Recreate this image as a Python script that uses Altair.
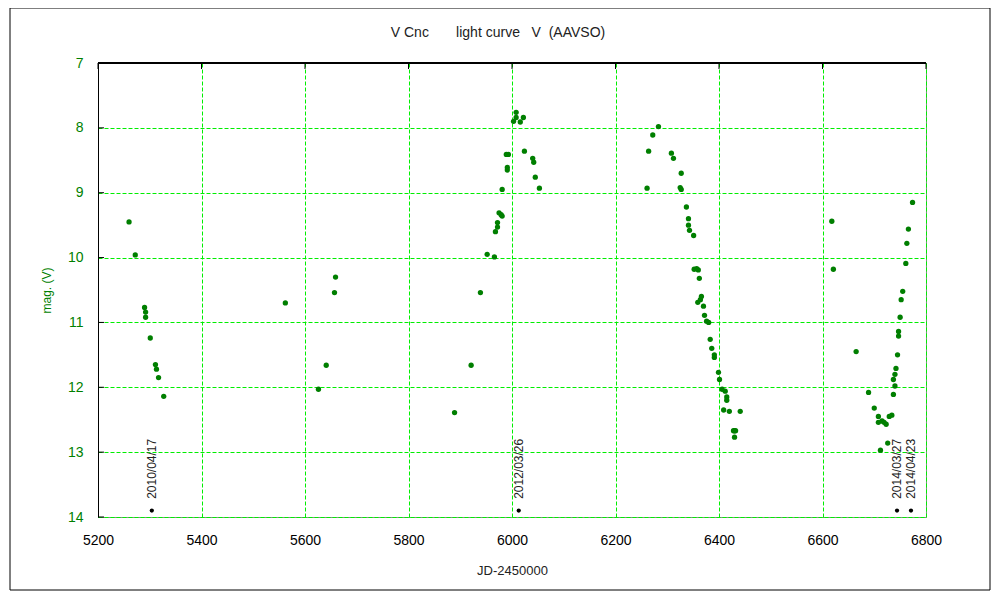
import altair as alt
import pandas as pd

# ---- data ----
jd = [5260, 5272, 5290, 5292, 5292, 5301, 5311, 5313, 5317, 5327,
      5562, 5626, 5641, 5657, 5659,
      5889, 5921, 5939, 5952, 5966, 5968, 5972, 5972, 5975, 5979, 5981, 5981,
      5989, 5991, 5991, 5993, 6003, 6008, 6008, 6016, 6022, 6024, 6040, 6042,
      6045, 6053,
      6261, 6264, 6272, 6283, 6308, 6312, 6325, 6327, 6327, 6337, 6341, 6341,
      6343, 6351, 6352, 6357, 6360, 6362, 6359, 6364, 6366, 6370, 6372, 6376,
      6380, 6383, 6386, 6391, 6391, 6399, 6401, 6406, 6409, 6412, 6415, 6415,
      6420, 6428, 6430, 6432, 6430, 6441,
      6618, 6621, 6665, 6689, 6700, 6708, 6708, 6712, 6715, 6719, 6723, 6726,
      6729, 6734, 6737, 6737, 6740, 6740, 6742, 6745, 6747, 6747, 6750, 6752,
      6755, 6761, 6763, 6766, 6774]
mag = [9.45, 9.96, 10.77, 10.84, 10.92, 11.24, 11.65, 11.72, 11.85, 12.14,
       10.70, 12.03, 11.66, 10.54, 10.30,
       12.39, 11.66, 10.54, 9.95, 9.99, 9.60, 9.53, 9.46, 9.31, 9.34, 9.36, 8.95,
       8.41, 8.61, 8.65, 8.41, 7.90, 7.76, 7.84, 7.91, 7.84, 8.36, 8.47, 8.53,
       8.76, 8.93,
       8.93, 8.36, 8.11, 7.98, 8.39, 8.47, 8.92, 8.95, 8.70, 9.22, 9.40, 9.50,
       9.58, 9.66, 10.18, 10.17, 10.19, 10.32, 10.69, 10.65, 10.60, 10.75, 10.89, 10.98,
       11.00, 11.26, 11.40, 11.50, 11.54, 11.77, 11.88, 12.03, 12.35, 12.06, 12.15, 12.20,
       12.37, 12.67, 12.67, 12.67, 12.77, 12.37,
       9.44, 10.18, 11.45, 12.08, 12.32, 12.45, 12.54, 12.97, 12.52, 12.54, 12.57, 12.86,
       12.45, 12.43, 12.11, 11.88, 11.98, 11.80, 11.71, 11.50, 11.21, 11.14, 10.92, 10.65,
       10.52, 10.09, 9.78, 9.56, 9.15]

event_dates = ["2010/04/17", "2012/03/26", "2014/03/27", "2014/04/23"]
event_jd = [5304, 6013, 6744, 6771]
event_marker_mag = [13.9, 13.9, 13.9, 13.9]
event_label_mag = [13.72, 13.72, 13.72, 13.72]

x_ticks = [5200, 5400, 5600, 5800, 6000, 6200, 6400, 6600, 6800]
y_ticks = [7, 8, 9, 10, 11, 12, 13, 14]
NB = "\u00a0"
title_text = ["V" + NB + "Cnc" + NB * 7 + "light" + NB + "curve" + NB * 3 + "V" + NB * 2 + "(AAVSO)"]

W, H = 828, 454
FONT = "Liberation Sans"
GREEN = "#007f00"
GRID = "#00ee00"

obs = pd.DataFrame({"jd": jd, "mag": mag})
events = pd.DataFrame({"jd": event_jd, "date": event_dates,
                       "m": event_marker_mag, "lm": event_label_mag})
yt = pd.DataFrame({"v": y_ticks})
xt = pd.DataFrame({"v": x_ticks})
tt = pd.DataFrame({"t": title_text})

xscale = alt.Scale(domain=[5200, 6800], nice=False, zero=False)
yscale = alt.Scale(domain=[7, 14], reverse=True, nice=False, zero=False)

xaxis = alt.Axis(values=x_ticks, title="JD-2450000", format="d",
                 labelColor="black", labelFontSize=14, labelPadding=16,
                 labelFlush=False,
                 titleFontSize=13, titleFontWeight="normal", titleColor="#222222",
                 titlePadding=17, domain=False, ticks=False,
                 grid=True, gridColor=GRID, gridDash=[4, 2], gridWidth=1)
yaxis = alt.Axis(values=y_ticks, title="mag. (V)", format="d",
                 labelColor=GREEN, labelFontSize=14, labelPadding=15,
                 labelFlush=False,
                 titleColor=GREEN, titleFontSize=12, titleFontWeight="normal",
                 titlePadding=14, domain=True, domainColor="black", ticks=False,
                 grid=True, gridColor=GRID, gridDash=[4, 2], gridWidth=1)


def X(field):
    return alt.X(field, type="quantitative", scale=xscale, axis=xaxis, title="JD-2450000")


def Y(field):
    return alt.Y(field, type="quantitative", scale=yscale, axis=yaxis, title="mag. (V)")


points = alt.Chart(obs).mark_circle(color=GREEN, size=28, opacity=1).encode(
    x=X("jd"), y=Y("mag"))

ev_pts = alt.Chart(events).mark_circle(color="black", size=18, opacity=1).encode(
    x=X("jd"), y=Y("m"))

ev_txt = alt.Chart(events).mark_text(angle=270, align="left", baseline="middle",
                                     fontSize=12, font=FONT, color="#222222").encode(
    x=X("jd"), y=Y("lm"), text="date:N")

left_ticks = alt.Chart(yt).mark_rule(color="black").encode(
    y=Y("v"), x=alt.value(0), x2=alt.value(6))
top_ticks = alt.Chart(xt).mark_rule(color="black").encode(
    x=X("v"), y=alt.value(0), y2=alt.value(6))
top_line = alt.Chart(xt).mark_rule(color="black").encode(
    x=alt.value(0), x2=alt.value(W), y=alt.value(0))

frame = alt.Chart(tt).mark_rect(
    fillOpacity=0, stroke="black", strokeWidth=1).encode(
    x=alt.value(-88), x2=alt.value(892), y=alt.value(-55), y2=alt.value(527))

title = alt.Chart(tt).mark_text(fontSize=14, font=FONT, color="#222222",
                                align="center", baseline="middle").encode(
    x=alt.value(400), y=alt.value(-30), text="t:N")

chart = alt.layer(points, frame, top_line, left_ticks, top_ticks, ev_pts, ev_txt, title).properties(
    width=W, height=H,
    autosize=alt.AutoSizeParams(type="none"),
    padding={"left": 90, "top": 55, "right": 66, "bottom": 76},
).configure(font=FONT).configure_view(stroke="#888888", strokeWidth=1).configure_axis(
    labelFont=FONT, titleFont=FONT)

chart.save("out.html", embed_options={"renderer": "svg", "actions": False})
